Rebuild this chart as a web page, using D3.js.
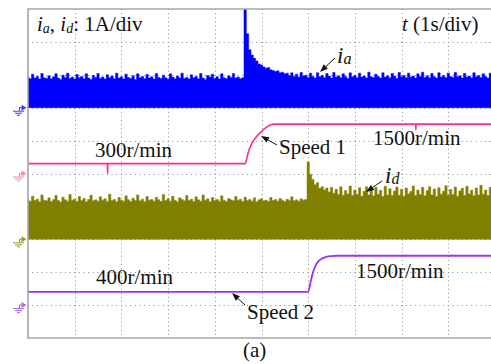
<!DOCTYPE html>
<html>
<head>
<meta charset="utf-8">
<script src="https://cdn.jsdelivr.net/npm/d3@7"></script>
<style>
  html, body { margin: 0; padding: 0; background: #fff; }
  svg { display: block; font-family: "Liberation Serif", serif; }
</style>
</head>
<body>
<svg id="chart" width="491" height="364"></svg>
<script>
// ---- recorded data -------------------------------------------------------
// current envelopes (A), one sample every 0.05 s starting at t = 0
const sampleStep = 0.05;
const iaValues = [
  0.93, 0.88, 1.02, 0.90, 0.95, 0.87, 1.04, 0.91, 0.89, 0.97,
  0.88, 0.94, 1.03, 0.90, 0.86, 0.99, 0.92, 1.05, 0.89, 0.93,
  0.87, 1.01, 0.91, 0.95, 0.88, 1.03, 0.90, 0.86, 0.98, 0.92,
  1.04, 0.89, 0.93, 0.87, 1.00, 0.91, 0.96, 0.88, 1.05, 0.90,
  0.94, 0.87, 1.02, 0.92, 0.89, 0.97, 0.86, 1.03, 0.91, 0.95,
  0.88, 1.01, 0.90, 0.94, 0.87, 1.04, 0.92, 0.89, 0.99, 0.91,
  0.87, 1.03, 0.93, 0.88, 0.96, 0.90, 1.05, 0.89, 0.92, 0.87,
  1.00, 0.91, 0.95, 0.88, 1.04, 0.90, 0.86, 0.98, 0.93, 1.02,
  0.89, 0.94, 0.87, 1.03, 0.91, 0.88, 0.97, 0.92, 1.04, 0.90,
  0.93, 0.88, 0.91, 3.60, 2.25, 1.76, 1.60, 1.50, 1.42, 1.33,
  1.30, 1.24, 1.20, 1.22, 1.15, 1.13, 1.10, 1.12, 1.06, 1.08,
  1.03, 1.05, 0.98, 1.06, 0.95, 1.02, 0.93, 1.07, 0.96, 0.99,
  0.92, 1.05, 0.95, 0.90, 1.06, 0.94, 0.98, 0.91, 1.04, 0.96,
  0.90, 1.07, 0.93, 0.97, 0.91, 1.03, 0.95, 0.89, 1.06, 0.94,
  0.98, 0.91, 1.05, 0.93, 0.96, 0.90, 1.08, 0.94, 0.92, 1.02,
  0.95, 0.90, 1.06, 0.93, 0.97, 0.91, 1.04, 0.96, 0.89, 1.07,
  0.94, 0.98, 0.91, 1.05, 0.93, 0.96, 0.90, 1.03, 0.95, 1.08,
  0.92, 0.97, 0.91, 1.04, 0.94, 0.90, 1.06, 0.93, 0.98, 0.91,
  1.05, 0.95, 0.92, 1.07, 0.94, 0.97, 0.90, 1.04, 0.93, 0.96,
  0.91, 1.06, 0.94, 0.98, 0.92, 1.03, 0.95, 0.90, 1.05, 0.93
];
const idValues = [
  1.20, 1.16, 1.31, 1.18, 1.22, 1.14, 1.35, 1.19, 1.17, 1.26,
  1.15, 1.21, 1.33, 1.18, 1.13, 1.28, 1.20, 1.16, 1.36, 1.19,
  1.22, 1.15, 1.30, 1.18, 1.24, 1.14, 1.21, 1.34, 1.17, 1.20,
  1.16, 1.29, 1.19, 1.23, 1.15, 1.37, 1.18, 1.21, 1.14, 1.27,
  1.19, 1.16, 1.32, 1.20, 1.15, 1.25, 1.18, 1.35, 1.17, 1.22,
  1.14, 1.30, 1.19, 1.21, 1.16, 1.28, 1.20, 1.15, 1.36, 1.18,
  1.23, 1.16, 1.31, 1.19, 1.14, 1.26, 1.21, 1.17, 1.33, 1.18,
  1.22, 1.15, 1.29, 1.20, 1.16, 1.35, 1.19, 1.23, 1.14, 1.27,
  1.18, 1.21, 1.16, 1.32, 1.19, 1.15, 1.24, 1.20, 1.17, 1.30,
  1.19, 1.22, 1.15, 1.28, 1.18, 1.21, 1.16, 1.26, 1.14, 1.20,
  1.23, 1.17, 1.19, 1.15, 1.27, 1.18, 1.21, 1.16, 1.24, 1.19,
  1.15, 1.22, 1.18, 1.29, 1.17, 1.20, 1.16, 1.23, 1.19, 1.21,
  2.35, 1.98, 1.82, 1.66, 1.72, 1.55, 1.60, 1.50, 1.56, 1.44,
  1.58, 1.40, 1.52, 1.36, 1.60, 1.34, 1.48, 1.38, 1.62, 1.33,
  1.50, 1.36, 1.57, 1.31, 1.46, 1.60, 1.35, 1.52, 1.32, 1.58,
  1.37, 1.49, 1.30, 1.61, 1.35, 1.54, 1.33, 1.47, 1.59, 1.34,
  1.52, 1.31, 1.56, 1.38, 1.45, 1.62, 1.33, 1.50, 1.36, 1.58,
  1.32, 1.48, 1.60, 1.35, 1.53, 1.30, 1.57, 1.37, 1.46, 1.63,
  1.34, 1.51, 1.36, 1.59, 1.31, 1.47, 1.55, 1.33, 1.61, 1.38,
  1.49, 1.32, 1.56, 1.35, 1.64, 1.37, 1.50, 1.33, 1.58, 1.40
];
// speed traces (r/min) at the listed times (s)
const speed1Time   = [0,   1.700, 1.705, 1.710, 4.65, 4.70, 4.75, 4.80, 4.90, 5.00, 5.10, 5.20, 5.25, 8.300, 8.305, 8.310, 10];
const speed1Values = [300, 300,   0,     300,   300,  560,  780,  930,  1130, 1280, 1400, 1480, 1500, 1500,  1330,  1500,  1500];
const speed2Time   = [0,   6.00, 6.05, 6.10, 6.15, 6.20, 6.30, 6.40, 6.50, 6.60, 10];
const speed2Values = [400, 400,  700,  980,  1180, 1300, 1420, 1470, 1490, 1500, 1500];

// scope settings
const timeDivs = 10, ampDivs = 10;
const ampPerDiv = 1;       // A/div
const speedPerDiv = 1000;  // r/min per div

// ---- layout --------------------------------------------------------------
const W = 491, H = 364;
const plotLeft = 28, plotTop = 9, divX = 46.7, divY = 32.9;
const plotBottom = plotTop + ampDivs * divY;

const svg = d3.select("#chart");

const x = d3.scaleLinear().domain([0, timeDivs]).range([plotLeft, plotLeft + timeDivs * divX]);
const gridY = d3.scaleLinear().domain([0, ampDivs]).range([plotTop, plotBottom]);

// each channel: ground position (divisions from top) and its vertical scale
function channelScale(groundDiv, perDiv) {
  return d3.scaleLinear().domain([0, perDiv])
    .range([gridY(groundDiv), gridY(groundDiv - 1)]);
}
const yIa = channelScale(3, ampPerDiv);
const ySpeed1 = channelScale(5, speedPerDiv);
const yId = channelScale(7, ampPerDiv);
const ySpeed2 = channelScale(9, speedPerDiv);

const colors = {
  ia: "#0000ff", speed1: "#ff2d8f", id: "#808000", speed2: "#9b30ff",
  iaMark: "#3b3bff", speed1Mark: "#ff7fc0", idMark: "#9c9c1e", speed2Mark: "#b266ff"
};

svg.append("defs").append("clipPath").attr("id", "plotClip")
  .append("rect").attr("x", plotLeft).attr("y", plotTop)
  .attr("width", W - plotLeft).attr("height", plotBottom - plotTop);

// ---- graticule -----------------------------------------------------------
const grid = svg.append("g").attr("stroke", "#8a8a8a").attr("stroke-width", 1);
grid.selectAll("line.h").data(d3.range(1, ampDivs)).join("line")
  .attr("x1", plotLeft).attr("x2", W)
  .attr("y1", d => Math.round(gridY(d)) + 0.5).attr("y2", d => Math.round(gridY(d)) + 0.5)
  .attr("stroke-dasharray", `1 ${divX / 10 - 1}`)
  .attr("stroke-dashoffset", -(divX / 10 - 0.5));
grid.selectAll("line.v").data(d3.range(1, timeDivs).filter(d => x(d) < W)).join("line")
  .attr("y1", plotTop).attr("y2", plotBottom)
  .attr("x1", d => Math.round(x(d)) + 0.5).attr("x2", d => Math.round(x(d)) + 0.5)
  .attr("stroke-dasharray", `1 ${divY / 8 - 1}`);

// ---- traces --------------------------------------------------------------
const traces = svg.append("g").attr("clip-path", "url(#plotClip)");

function currentArea(yScale) {
  return d3.area()
    .x((d, i) => x(i * sampleStep))
    .y0(yScale(0))
    .y1(d => yScale(d))
    .curve(d3.curveStep);
}
traces.append("path").datum(iaValues)
  .attr("d", currentArea(yIa))
  .attr("fill", colors.ia).attr("stroke", colors.ia).attr("stroke-width", 0.5);
traces.append("path").datum(idValues)
  .attr("d", currentArea(yId))
  .attr("fill", colors.id).attr("stroke", colors.id).attr("stroke-width", 0.5);

function speedLine(yScale, times) {
  return d3.line()
    .x((d, i) => x(times[i]))
    .y(d => yScale(d))
    .curve(d3.curveMonotoneX);
}
traces.append("path").datum(speed1Values)
  .attr("d", speedLine(ySpeed1, speed1Time))
  .attr("fill", "none").attr("stroke", colors.speed1).attr("stroke-width", 1.6);
traces.append("path").datum(speed2Values)
  .attr("d", speedLine(ySpeed2, speed2Time))
  .attr("fill", "none").attr("stroke", colors.speed2).attr("stroke-width", 1.8);

// ---- frame ---------------------------------------------------------------
const frame = svg.append("g").attr("stroke", "#a6a6a6").attr("stroke-width", 1.6).attr("fill", "none");
frame.append("path").attr("d", `M${W},${plotTop} H${plotLeft} V${plotBottom} H${W}`);

// ---- channel ground markers ----------------------------------------------
function groundMarker(gy, color) {
  const g = svg.append("g").attr("stroke", color).attr("fill", color).attr("stroke-width", 1);
  g.append("path").attr("d", `M${plotLeft - 6.5},${gy - 3} L${plotLeft - 1.5},${gy} L${plotLeft - 6.5},${gy + 3} Z`).attr("stroke", "none");
  g.append("path").attr("fill", "none")
    .attr("d", `M${plotLeft - 9},${gy} H${plotLeft - 6} M${plotLeft - 8.5},${gy} V${gy + 3}
                M${plotLeft - 15},${gy + 3.5} H${plotLeft - 4}
                M${plotLeft - 13},${gy + 5.5} H${plotLeft - 6}
                M${plotLeft - 11},${gy + 7.5} H${plotLeft - 8}`);
}
groundMarker(yIa(0), colors.iaMark);
groundMarker(ySpeed1(0), colors.speed1Mark);
groundMarker(yId(0), colors.idMark);
groundMarker(ySpeed2(0), colors.speed2Mark);

// ---- labels --------------------------------------------------------------
const labels = svg.append("g").attr("fill", "#111").attr("font-size", 21);

const title = labels.append("text").attr("x", 37).attr("y", 31);
title.append("tspan").attr("font-style", "italic").text("i");
title.append("tspan").attr("font-style", "italic").attr("font-size", 14).attr("dy", 2).text("a");
title.append("tspan").attr("dy", -2).text(", ");
title.append("tspan").attr("font-style", "italic").text("i");
title.append("tspan").attr("font-style", "italic").attr("font-size", 14).attr("dy", 2).text("d");
title.append("tspan").attr("dy", -2).text(": 1A/div");

const tdiv = labels.append("text").attr("x", 402).attr("y", 31);
tdiv.append("tspan").attr("font-style", "italic").text("t");
tdiv.append("tspan").text(" (1s/div)");

function signalLabel(px, py, sub) {
  const t = labels.append("text").attr("x", px).attr("y", py).attr("font-style", "italic");
  t.append("tspan").attr("font-size", 23).text("i");
  t.append("tspan").attr("font-size", 16).attr("dy", 1).text(sub);
}
signalLabel(337, 63, "a");
signalLabel(385, 183, "d");

labels.append("text").attr("x", 95).attr("y", 157).text("300r/min");
labels.append("text").attr("x", 279).attr("y", 154).text("Speed 1");
labels.append("text").attr("x", 373).attr("y", 145).text("1500r/min");
labels.append("text").attr("x", 96).attr("y", 284).text("400r/min");
labels.append("text").attr("x", 247).attr("y", 319).text("Speed 2");
labels.append("text").attr("x", 356).attr("y", 278).text("1500r/min");
labels.append("text").attr("x", 243).attr("y", 357).text("(a)");

// ---- pointer arrows ------------------------------------------------------
function arrow(x1, y1, x2, y2) {
  const g = svg.append("g");
  const ang = Math.atan2(y2 - y1, x2 - x1);
  const len = 8, half = 3;
  const bx = x2 - len * Math.cos(ang), by = y2 - len * Math.sin(ang);
  g.append("line").attr("x1", x1).attr("y1", y1).attr("x2", bx).attr("y2", by)
    .attr("stroke", "#111").attr("stroke-width", 1);
  g.append("path").attr("fill", "#111")
    .attr("d", `M${x2},${y2} L${bx + half * Math.sin(ang)},${by - half * Math.cos(ang)} L${bx - half * Math.sin(ang)},${by + half * Math.cos(ang)} Z`);
}
arrow(335, 58, 320, 72);
arrow(382, 181, 366, 192);
arrow(277, 145, 261, 136);
arrow(245, 305, 232, 293);
</script>
</body>
</html>
